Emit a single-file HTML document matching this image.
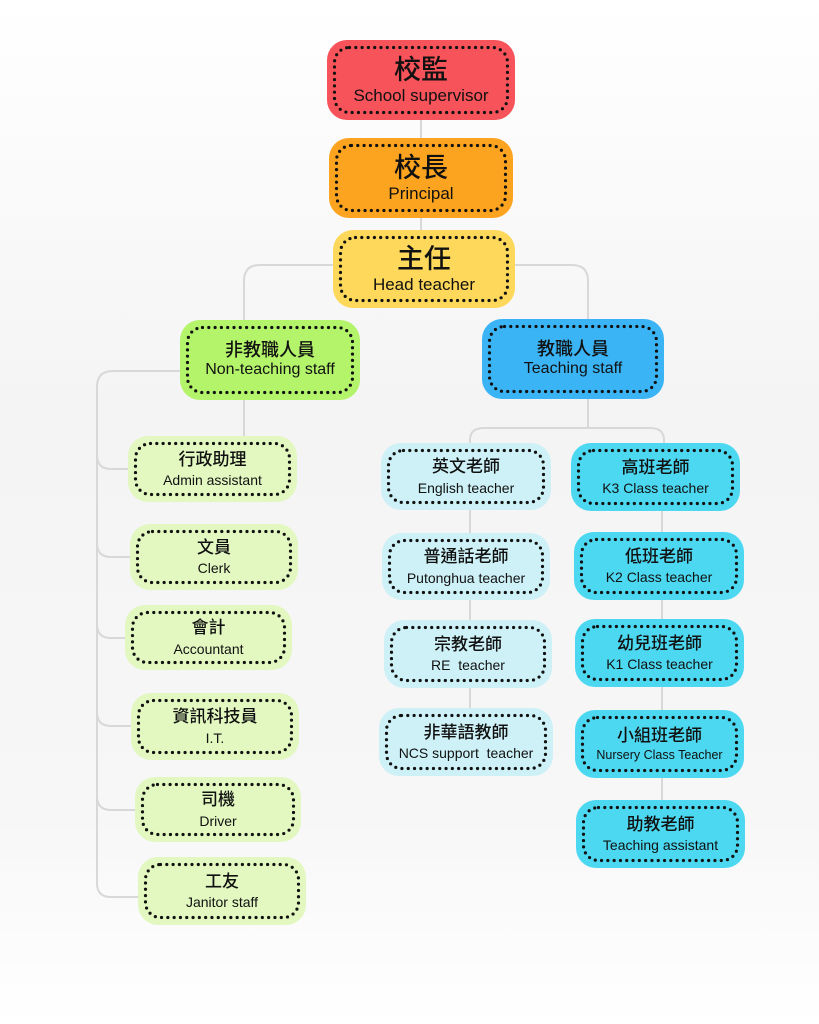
<!DOCTYPE html>
<html><head><meta charset="utf-8"><style>
body{margin:0;width:819px;height:1024px;background:linear-gradient(#ffffff,#f4f4f4 40%,#f7f7f7 80%,#ffffff);position:relative;overflow:hidden;font-family:"Liberation Sans","Noto Sans CJK TC",sans-serif;color:#111}
.b{position:absolute;border-radius:20px;box-sizing:border-box}
.b .i{position:absolute;left:6px;top:6px;right:6px;bottom:6px;display:flex;flex-direction:column;align-items:center;justify-content:center;text-align:center;line-height:1.15;white-space:nowrap}
.b svg.d{position:absolute;left:0;top:0}
.big .c{font-size:27px;font-weight:500}
.big .e{font-size:17px}
.mid .c{font-size:18px;font-weight:500}
.mid .e{font-size:16px}
.sm .c{font-size:17px;font-weight:500;margin-bottom:3px}
.sm .e{font-size:14px}
.g{background:#e2f8c0}.lb{background:#cdf1f6}.cy{background:#4cd8f1}
svg.lines{position:absolute;left:0;top:0}
</style></head><body>
<svg class="lines" width="819" height="1024" fill="none" stroke="#d8d8d8" stroke-width="2">
<path d="M421,120V230"/>
<path d="M333,265H260Q244,265 244,281V320"/>
<path d="M515,265H572Q588,265 588,281V319"/>
<path d="M244,400V436"/>
<path d="M180,371H113Q97,371 97,387V883Q97,897 111,897H138"/>
<path d="M97,455Q97,469 111,469H128"/>
<path d="M97,543Q97,557 111,557H130"/>
<path d="M97,624Q97,638 111,638H125"/>
<path d="M97,712Q97,726 111,726H131"/>
<path d="M97,796Q97,810 111,810H135"/>
<path d="M588,399V428"/>
<path d="M470,443V440Q470,428 484,428H650Q664,428 664,440V443"/>
<path d="M470,510V708"/>
<path d="M662,511V800"/>
</svg>
<div class="b big" style="left:327px;top:40px;width:188px;height:80px;background:#f7535a"><div class="i"><div class="c">校監</div><div class="e">School supervisor</div></div></div>
<div class="b big" style="left:329px;top:138px;width:184px;height:80px;background:#fca41f"><div class="i"><div class="c">校長</div><div class="e">Principal</div></div></div>
<div class="b big" style="left:333px;top:230px;width:182px;height:78px;background:#fdd85a"><div class="i"><div class="c">主任</div><div class="e">Head teacher</div></div></div>
<div class="b mid" style="left:180px;top:320px;width:180px;height:80px;background:#b3f46a"><div class="i"><div class="c">非教職人員</div><div class="e">Non-teaching staff</div></div></div>
<div class="b mid" style="left:482px;top:319px;width:182px;height:80px;background:#3bb4f6"><div class="i"><div class="c">教職人員</div><div class="e">Teaching staff</div></div></div>

<div class="b sm g" style="left:128px;top:436px;width:169px;height:66px"><div class="i"><div class="c">行政助理</div><div class="e">Admin assistant</div></div></div>
<div class="b sm g" style="left:130px;top:524px;width:168px;height:66px"><div class="i"><div class="c">文員</div><div class="e">Clerk</div></div></div>
<div class="b sm g" style="left:125px;top:605px;width:167px;height:65px"><div class="i"><div class="c">會計</div><div class="e">Accountant</div></div></div>
<div class="b sm g" style="left:131px;top:693px;width:168px;height:67px"><div class="i"><div class="c">資訊科技員</div><div class="e">I.T.</div></div></div>
<div class="b sm g" style="left:135px;top:777px;width:166px;height:65px"><div class="i"><div class="c">司機</div><div class="e">Driver</div></div></div>
<div class="b sm g" style="left:138px;top:857px;width:168px;height:68px"><div class="i"><div class="c">工友</div><div class="e">Janitor staff</div></div></div>

<div class="b sm lb" style="left:381px;top:443px;width:170px;height:67px"><div class="i"><div class="c">英文老師</div><div class="e">English teacher</div></div></div>
<div class="b sm lb" style="left:382px;top:533px;width:168px;height:67px"><div class="i"><div class="c">普通話老師</div><div class="e">Putonghua teacher</div></div></div>
<div class="b sm lb" style="left:384px;top:620px;width:168px;height:68px"><div class="i"><div class="c">宗教老師</div><div class="e">RE&nbsp; teacher</div></div></div>
<div class="b sm lb" style="left:379px;top:708px;width:174px;height:68px"><div class="i"><div class="c">非華語教師</div><div class="e">NCS support&nbsp; teacher</div></div></div>

<div class="b sm cy" style="left:571px;top:443px;width:169px;height:68px"><div class="i"><div class="c">高班老師</div><div class="e">K3 Class teacher</div></div></div>
<div class="b sm cy" style="left:574px;top:532px;width:170px;height:68px"><div class="i"><div class="c">低班老師</div><div class="e">K2 Class teacher</div></div></div>
<div class="b sm cy" style="left:575px;top:619px;width:169px;height:68px"><div class="i"><div class="c">幼兒班老師</div><div class="e">K1 Class teacher</div></div></div>
<div class="b sm cy" style="left:575px;top:710px;width:169px;height:68px"><div class="i"><div class="c">小組班老師</div><div class="e" style="font-size:12.5px">Nursery Class Teacher</div></div></div>
<div class="b sm cy" style="left:576px;top:800px;width:169px;height:68px"><div class="i"><div class="c">助教老師</div><div class="e">Teaching assistant</div></div></div>
<script>
document.querySelectorAll('.b').forEach(function(b){
  var w=b.offsetWidth,h=b.offsetHeight,ns='http://www.w3.org/2000/svg';
  var s=document.createElementNS(ns,'svg');s.setAttribute('class','d');s.setAttribute('width',w);s.setAttribute('height',h);
  var r=document.createElementNS(ns,'rect');
  r.setAttribute('x',7.5);r.setAttribute('y',7.5);r.setAttribute('width',w-15);r.setAttribute('height',h-15);
  r.setAttribute('rx',15);r.setAttribute('fill','none');r.setAttribute('stroke','#111');r.setAttribute('stroke-width','3.2');
  r.setAttribute('stroke-linecap','round');r.setAttribute('stroke-dasharray','0 6.3');
  s.appendChild(r);b.insertBefore(s,b.firstChild);
});
</script>
</body></html>
